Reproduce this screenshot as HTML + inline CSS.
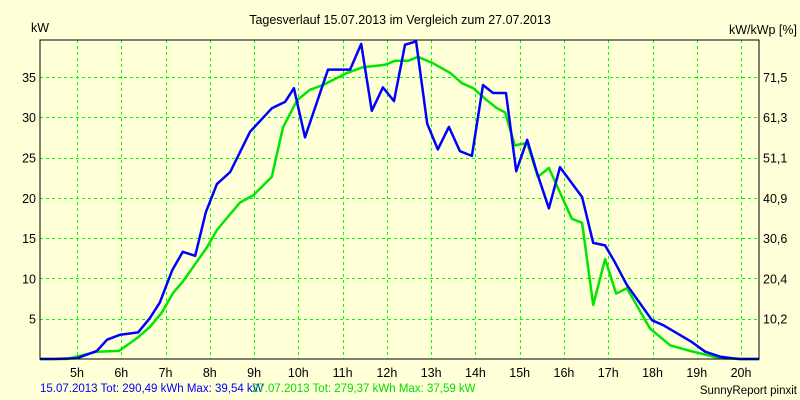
<!DOCTYPE html>
<html><head><meta charset="utf-8"><style>
html,body{margin:0;padding:0;background:#ffffd8;}
svg{display:block;font-family:"Liberation Sans",sans-serif;}
</style></head><body>
<svg id="chart" width="800" height="400" xmlns="http://www.w3.org/2000/svg">
<rect x="0" y="0" width="800" height="400" fill="#ffffd8"/>
<text x="400" y="24" font-size="12.5" text-anchor="middle" fill="#000">Tagesverlauf 15.07.2013 im Vergleich zum 27.07.2013</text>
<text x="31" y="32" font-size="12.5" fill="#000">kW</text>
<text x="797" y="34" font-size="12.5" text-anchor="end" fill="#000">kW/kWp [%]</text>
<g id="grid"></g>
<g id="series"></g>
<rect x="40" y="40" width="719" height="319" fill="none" stroke="#000" stroke-width="1"/>
<g id="labels"></g>
<text x="40" y="392" font-size="11.5" fill="#0000ff">15.07.2013 Tot: 290,49 kWh Max: 39,54 kW</text>
<text x="252" y="392" font-size="11.5" fill="#00e000">27.07.2013 Tot: 279,37 kWh Max: 37,59 kW</text>
<text x="797" y="394" font-size="11.5" text-anchor="end" fill="#000">SunnyReport pinxit</text>
</svg>
<script>
const xTickHours = [5,6,7,8,9,10,11,12,13,14,15,16,17,18,19,20];
const yTickValues = [5,10,15,20,25,30,35];
const rightTickLabels = ["10,2","20,4","30,6","40,9","51,1","61,3","71,5"];
const blueTimes = [4.16,4.44,5.0,5.45,5.68,5.97,6.38,6.65,6.87,7.15,7.39,7.67,7.91,8.16,8.46,8.91,9.40,9.70,9.90,10.15,10.67,11.17,11.42,11.66,11.91,12.16,12.41,12.66,12.91,13.15,13.40,13.65,13.92,14.17,14.40,14.69,14.92,15.17,15.39,15.66,15.91,16.41,16.66,16.93,17.15,17.42,17.99,18.24,18.55,18.89,19.19,19.52,19.80,19.98,20.41];
const blueValues = [0,0,0.1,1.0,2.4,3.0,3.3,5.1,7.0,11.0,13.3,12.8,18.2,21.7,23.2,28.2,31.1,31.9,33.6,27.5,35.9,35.9,39.1,30.8,33.7,32.0,39.0,39.4,29.2,26.0,28.8,25.8,25.2,34.0,33.0,33.0,23.3,27.2,23.1,18.7,23.8,20.1,14.4,14.1,12.0,9.2,4.8,4.2,3.2,2.1,0.9,0.3,0.1,0,0];
const greenTimes = [4.16,4.77,5.45,5.95,6.36,6.65,6.92,7.17,7.39,7.94,8.16,8.68,8.98,9.40,9.65,9.97,10.26,10.56,11.10,11.46,11.96,12.18,12.48,12.70,13.04,13.43,13.70,13.95,14.26,14.49,14.67,14.89,15.17,15.41,15.66,16.18,16.41,16.66,16.93,17.18,17.42,17.94,18.40,18.78,19.23,19.52,19.98,20.41];
const greenValues = [0,0,0.9,1.0,2.6,4.0,5.8,8.2,9.6,13.9,16.0,19.4,20.3,22.6,28.7,32.1,33.4,34.0,35.5,36.2,36.5,37.0,37.0,37.5,36.7,35.5,34.2,33.6,32.1,31.1,30.6,26.5,26.8,22.6,23.7,17.4,16.9,6.7,12.4,8.1,8.8,3.8,1.7,1.1,0.5,0.1,0,0];

const NS = "http://www.w3.org/2000/svg";
function xScale(h){ return 77 + (h - 5) * 44.27; }
function yScale(v){ return 359 - v * 8.06; }
function mk(tag, attrs){ const e = document.createElementNS(NS, tag); for (const k in attrs) e.setAttribute(k, attrs[k]); return e; }

const grid = document.getElementById('grid');
const labels = document.getElementById('labels');
xTickHours.forEach(h => {
  const x = Math.round(xScale(h)) + 0.5;
  const l = mk('line', {x1:x, y1:40, x2:x, y2:359, stroke:'#00ff00', 'stroke-width':1, 'stroke-dasharray':'3,3'});
  
  
  grid.appendChild(l);
  const t = mk('text', {x:xScale(h), y:377, 'font-size':12.5, 'text-anchor':'middle', fill:'#000'});
  t.textContent = h + 'h';
  
  
  labels.appendChild(t);
});
yTickValues.forEach((v, i) => {
  const y = Math.round(yScale(v)) + 0.5;
  const l = mk('line', {x1:40, y1:y, x2:759, y2:y, stroke:'#00ff00', 'stroke-width':1, 'stroke-dasharray':'3,3'});
  
  
  grid.appendChild(l);
  const t = mk('text', {x:36, y:yScale(v) + 5, 'font-size':12.5, 'text-anchor':'end', fill:'#000'});
  t.textContent = v;
  
  
  labels.appendChild(t);
  const r = mk('text', {x:763, y:yScale(v) + 5, 'font-size':12.5, fill:'#000'});
  r.textContent = rightTickLabels[i];
  
  
  labels.appendChild(r);
});
const series = document.getElementById('series');
function drawLine(times, vals, color, name){
  const pts = times.map((t, i) => xScale(t).toFixed(1) + ',' + yScale(vals[i]).toFixed(1)).join(' ');
  const p = mk('polyline', {points:pts, fill:'none', stroke:color, 'stroke-width':2.5, 'stroke-linejoin':'round'});
  
  
  series.appendChild(p);
}
drawLine(greenTimes, greenValues, '#00e600', 'series-27-07-2013');
drawLine(blueTimes, blueValues, '#0000ff', 'series-15-07-2013');
</script>
</body></html>
